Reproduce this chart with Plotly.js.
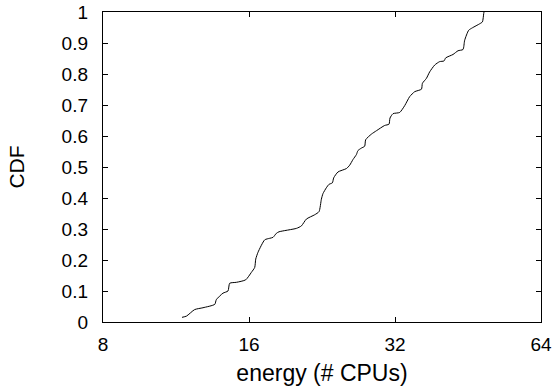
<!DOCTYPE html>
<html>
<head>
<meta charset="utf-8">
<script src="https://cdn.plot.ly/plotly-3.0.1.min.js"></script>
<style>html,body{margin:0;padding:0;background:#fff;}#chart{width:555px;height:389px;}</style>
</head>
<body>
<div id="chart"></div>
<script>
// energy (# CPUs) values and cumulative fraction (CDF)
const energy = [11.64,11.89,12.36,12.86,13.60,13.70,14.14,14.48,14.60,15.07,15.75,16.18,16.44,16.52,16.70,17.24,17.65,17.93,18.22,18.45,20.04,20.52,21.01,21.86,22.31,22.56,22.73,23.10,23.39,23.77,23.92,24.41,25.41,25.81,26.21,26.64,26.84,27.28,27.71,27.84,28.61,29.30,30.47,31.10,31.25,31.70,32.72,33.51,34.31,35.14,36.28,36.45,37.15,37.73,38.64,39.57,40.38,40.71,42.15,43.16,44.19,44.55,45.40,46.21,47.84,48.46,48.76,48.83];
const cdf = [0.015,0.019,0.040,0.046,0.057,0.072,0.093,0.100,0.125,0.128,0.136,0.160,0.176,0.203,0.225,0.265,0.270,0.273,0.286,0.291,0.302,0.310,0.332,0.346,0.356,0.396,0.414,0.433,0.444,0.449,0.465,0.484,0.495,0.506,0.524,0.540,0.553,0.561,0.567,0.588,0.606,0.617,0.634,0.638,0.658,0.672,0.676,0.698,0.727,0.743,0.751,0.770,0.786,0.807,0.829,0.840,0.842,0.852,0.863,0.875,0.879,0.909,0.941,0.949,0.962,0.968,0.995,1.0];
const xTickVals = [8,16,32,64];
const xTickText = ["8","16","32","64"];
const yTickVals = [0,0.1,0.2,0.3,0.4,0.5,0.6,0.7,0.8,0.9,1];
const yTickText = ["0","0.1","0.2","0.3","0.4","0.5","0.6","0.7","0.8","0.9","1"];

const fam = "Liberation Sans, Arial, sans-serif";
const tickFont = {family: fam, size: 19, color: "#000"};
Plotly.newPlot("chart", [{
  x: energy, y: cdf, type: "scatter", mode: "lines",
  line: {color: "#000", width: 1, shape: "spline", smoothing: 0.6},
  hoverinfo: "skip", cliponaxis: false
}], {
  width: 555, height: 389,
  margin: {l: 103, r: 14, t: 12, b: 67},
  paper_bgcolor: "#fff", plot_bgcolor: "#fff",
  showlegend: false,
  font: tickFont,
  xaxis: {
    type: "log", range: [Math.log10(8), Math.log10(64)],
    tickvals: xTickVals, ticktext: xTickText, tickfont: tickFont,
    ticks: "inside", ticklen: 5, tickwidth: 1, tickcolor: "#000",
    showline: true, linecolor: "#000", linewidth: 1.2, mirror: "allticks",
    showgrid: false, zeroline: false,
    ticklabelstandoff: 5, ticklabeloverflow: "allow",
    title: {text: "energy (# CPUs)", font: {family: fam, size: 23, color: "#000"}, standoff: 10}
  },
  xaxis2: {
    type: "log", range: [Math.log10(8), Math.log10(64)],
    overlaying: "x", side: "top", matches: "x",
    showticklabels: false, ticks: "",
    showline: true, linecolor: "#000", linewidth: 1.2,
    showgrid: false, zeroline: false
  },
  yaxis: {
    range: [0, 1],
    tickvals: yTickVals, ticktext: yTickText, tickfont: tickFont,
    ticks: "inside", ticklen: 5, tickwidth: 1, tickcolor: "#000",
    showline: true, linecolor: "#000", linewidth: 1.2, mirror: "allticks",
    showgrid: false, zeroline: false,
    ticklabelstandoff: 10, ticklabeloverflow: "allow",
    title: {text: "CDF", font: {family: fam, size: 21, color: "#000"}, standoff: 31}
  }
}, {staticPlot: true});
</script>
</body>
</html>
